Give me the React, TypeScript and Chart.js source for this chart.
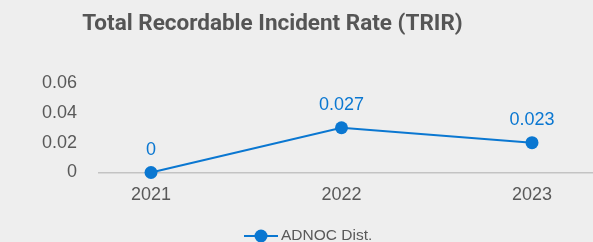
import React, { useEffect, useRef } from "react";
import { Chart, registerables } from "chart.js";

Chart.register(...registerables);

const categories = [2021, 2022, 2023];
const seriesName = "ADNOC Dist.";
const values = [0, 0.03, 0.02];
const valueLabels = ["0", "0.027", "0.023"];
const yTicks = [0, 0.02, 0.04, 0.06];
const titleText = "Total Recordable Incident Rate (TRIR)";

const BLUE = "#0a77d1";
const GRAY = "#595959";
const FONT = "'Liberation Sans', Arial, sans-serif";
const TITLE_FONT = "Roboto, Inter, sans-serif";

export default function App() {
  const ref = useRef<HTMLCanvasElement | null>(null);

  useEffect(() => {
    document.body.style.margin = "0";
    document.body.style.background = "#eeeeee";
    const canvas = ref.current;
    if (!canvas) return;

    const overlay = {
      id: "overlay",
      afterDatasetsDraw(chart: any) {
        const ctx = chart.ctx;
        const meta = chart.getDatasetMeta(0);
        ctx.save();
        ctx.fillStyle = BLUE;
        ctx.font = `18px ${FONT}`;
        ctx.textAlign = "center";
        ctx.textBaseline = "middle";
        meta.data.forEach((pt: any, i: number) => {
          ctx.fillText(valueLabels[i], pt.x, pt.y - 22.5);
        });
        ctx.restore();
      },
      afterDraw(chart: any) {
        const ctx = chart.ctx;
        ctx.save();
        // title
        ctx.fillStyle = "#555555";
        ctx.font = `bold 22.5px ${TITLE_FONT}`;
        ctx.textAlign = "center";
        ctx.textBaseline = "middle";
        ctx.fillText(titleText, 272.5, 24);
        // legend
        const ly = 236;
        ctx.strokeStyle = BLUE;
        ctx.lineWidth = 2;
        ctx.beginPath();
        ctx.moveTo(244, ly);
        ctx.lineTo(278, ly);
        ctx.stroke();
        ctx.fillStyle = BLUE;
        ctx.beginPath();
        ctx.arc(261, ly, 6.5, 0, Math.PI * 2);
        ctx.fill();
        ctx.fillStyle = GRAY;
        ctx.font = `15.5px ${FONT}`;
        ctx.textAlign = "left";
        ctx.fillText(seriesName, 281, ly);
        ctx.restore();
      },
    };

    const chart = new Chart(canvas, {
      type: "line",
      data: {
        datasets: [
          {
            label: seriesName,
            data: categories.map((c, i) => ({ x: c, y: values[i] })),
            borderColor: BLUE,
            backgroundColor: BLUE,
            borderWidth: 2,
            pointRadius: 6.5,
            pointHoverRadius: 6.5,
            pointBackgroundColor: BLUE,
            pointBorderWidth: 0,
            tension: 0,
            clip: false as any,
          },
        ],
      },
      options: {
        animation: false,
        responsive: false,
        maintainAspectRatio: false,
        layout: { autoPadding: false, padding: { top: 83, left: 0, right: 1, bottom: 29.5 } },
        plugins: {
          legend: { display: false },
          title: { display: false },
          tooltip: { enabled: false },
        },
        scales: {
          x: {
            type: "linear",
            min: 2021 - 52 / 190.5,
            max: 2023 + 60 / 190.5,
            afterBuildTicks: (s: any) => {
              s.ticks = categories.map((c) => ({ value: c }));
            },
            afterFit: (s: any) => {
              s.height = 40;
              s.paddingLeft = 0;
              s.paddingRight = 0;
            },
            grid: { display: false, drawTicks: false },
            border: { display: true, color: "#c3c3c3", width: 1.5 },
            ticks: {
              color: GRAY,
              font: { family: FONT, size: 18 },
              padding: 12,
              callback: (v: any) => String(v),
              maxRotation: 0,
            },
          },
          y: {
            min: 0,
            max: 0.06,
            afterBuildTicks: (s: any) => {
              s.ticks = yTicks.map((v) => ({ value: v }));
            },
            afterFit: (s: any) => {
              s.width = 99;
              s.paddingTop = 0;
              s.paddingBottom = 0;
            },
            grid: { display: false, drawTicks: false },
            border: { display: false },
            ticks: {
              color: GRAY,
              font: { family: FONT, size: 18 },
              padding: 22,
              callback: (v: any) => String(v),
            },
          },
        },
      },
      plugins: [overlay],
    } as any);

    return () => chart.destroy();
  }, []);

  return (
    <div style={{ position: "fixed", left: 0, top: 0, width: 593, height: 242, background: "#eeeeee" }}>
      <canvas ref={ref} width={593} height={242} style={{ width: 593, height: 242, display: "block" }} />
    </div>
  );
}
